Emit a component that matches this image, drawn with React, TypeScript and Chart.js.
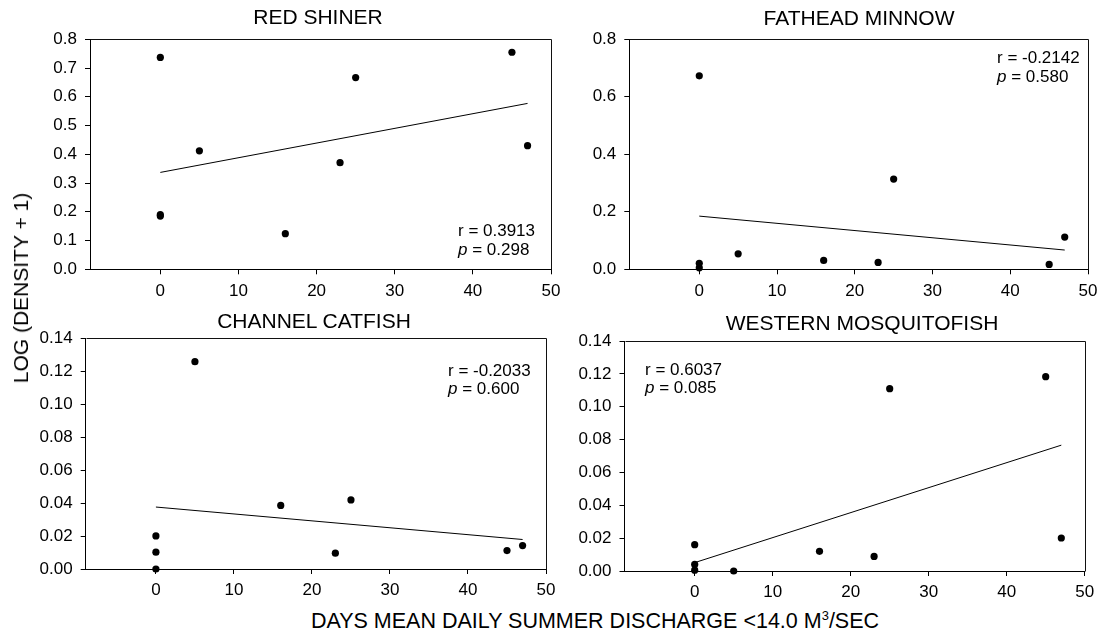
import React, { useEffect, useRef } from 'react';
import { Chart, registerables } from 'chart.js';

Chart.register(...registerables);

// ---- data ----
const xDays = [0, 0, 0, 5, 16, 23, 25, 45, 47];
const redShiner = [0.737, 0.19, 0.185, 0.412, 0.124, 0.371, 0.667, 0.755, 0.43];
const fatheadMinnow = [0.673, 0.021, 0.005, 0.054, 0.031, 0.024, 0.314, 0.017, 0.112];
const channelCatfish = [0.0201, 0.0102, 0.0, 0.1258, 0.0386, 0.0096, 0.0419, 0.0112, 0.0142];
const westernMosquitofish = [0.016, 0.004, 0.0005, 0.0, 0.012, 0.0089, 0.111, 0.1183, 0.0201];

const fitX = [0, 47];
const redShinerFit = [0.337, 0.577];
const fatheadMinnowFit = [0.185, 0.067];
const channelCatfishFit = [0.0376, 0.0179];
const westernMosquitofishFit = [0.0051, 0.0766];

const xTicks = [0, 10, 20, 30, 40, 50];
const xMin = -9;
const xMax = 50;
const yTicksRedShiner = [0, 0.1, 0.2, 0.3, 0.4, 0.5, 0.6, 0.7, 0.8];
const yTicksFathead = [0, 0.2, 0.4, 0.6, 0.8];
const yTicksSmall = [0, 0.02, 0.04, 0.06, 0.08, 0.1, 0.12, 0.14];

const titles = ['RED SHINER', 'FATHEAD MINNOW', 'CHANNEL CATFISH', 'WESTERN MOSQUITOFISH'];
const rTexts = ['r = 0.3913', 'r = -0.2142', 'r = -0.2033', 'r = 0.6037'];
const pTexts = ['= 0.298', '= 0.580', '= 0.600', '= 0.085'];

const FONT = '"Liberation Sans", Arial, Helvetica, sans-serif';

type Spec = {
  ys: number[];
  fit: number[];
  yTicks: number[];
  dec: number;
  left: number;
  top: number;
  w: number;
  h: number;
  yWidth: number;
  padTop: number;
  padRight: number;
  xHeight: number;
};

const specs: Spec[] = [
  { ys: redShiner, fit: redShinerFit, yTicks: yTicksRedShiner, dec: 1, left: 0, top: 0, w: 580, h: 300, yWidth: 90, padTop: 39.3, padRight: 29, xHeight: 30.7 },
  { ys: fatheadMinnow, fit: fatheadMinnowFit, yTicks: yTicksFathead, dec: 1, left: 552, top: 0, w: 552, h: 300, yWidth: 77.3, padTop: 39.3, padRight: 14, xHeight: 30.7 },
  { ys: channelCatfish, fit: channelCatfishFit, yTicks: yTicksSmall, dec: 2, left: 0, top: 300, w: 580, h: 300, yWidth: 85.7, padTop: 38.3, padRight: 34, xHeight: 31 },
  { ys: westernMosquitofish, fit: westernMosquitofishFit, yTicks: yTicksSmall, dec: 2, left: 552, top: 300, w: 552, h: 300, yWidth: 72.5, padTop: 41, padRight: 19.3, xHeight: 29 },
];

const framePlugin = {
  id: 'frame',
  afterDraw(chart: any) {
    const { ctx, chartArea } = chart;
    const l = Math.round(chartArea.left) + 0.5;
    const t = Math.round(chartArea.top) + 0.5;
    const r = Math.round(chartArea.right) + 0.5;
    const b = Math.round(chartArea.bottom) + 0.5;
    ctx.save();
    ctx.strokeStyle = '#111';
    ctx.lineWidth = 1;
    ctx.beginPath();
    ctx.moveTo(l, t);
    ctx.lineTo(r, t);
    ctx.lineTo(r, b);
    ctx.stroke();
    ctx.restore();
  },
};

function Panel({ spec }: { spec: Spec }) {
  const ref = useRef<HTMLCanvasElement>(null);
  useEffect(() => {
    const points = xDays.map((x, i) => ({ x, y: spec.ys[i] }));
    const line = fitX.map((x, i) => ({ x, y: spec.fit[i] }));
    const chart = new Chart(ref.current as HTMLCanvasElement, {
      type: 'scatter',
      data: {
        datasets: [
          {
            data: points,
            pointRadius: 3.6,
            pointBackgroundColor: '#000',
            pointBorderWidth: 0,
            showLine: false,
            clip: false,
          } as any,
          {
            data: line,
            showLine: true,
            pointRadius: 0,
            borderColor: '#000',
            borderWidth: 1,
            fill: false,
            clip: false,
          } as any,
        ],
      },
      options: {
        animation: false,
        responsive: false,
        devicePixelRatio: 1,
        events: [],
        layout: { padding: { left: 0, top: spec.padTop, right: spec.padRight, bottom: 0 } },
        plugins: { legend: { display: false }, tooltip: { enabled: false }, title: { display: false } },
        scales: {
          x: {
            type: 'linear',
            min: xMin,
            max: xMax,
            afterBuildTicks: (s: any) => {
              s.ticks = xTicks.map((v) => ({ value: v }));
            },
            afterFit: (s: any) => {
              s.height = spec.xHeight;
            },
            ticks: {
              autoSkip: false,
              maxRotation: 0,
              color: '#000',
              padding: 6.5,
              font: { family: FONT, size: 17 },
              callback: (v: any) => String(v),
            },
            grid: { display: true, drawOnChartArea: false, drawTicks: true, tickLength: 5, color: '#000' },
            border: { display: true, color: '#000', width: 1 },
          },
          y: {
            type: 'linear',
            min: 0,
            max: spec.yTicks[spec.yTicks.length - 1],
            afterBuildTicks: (s: any) => {
              s.ticks = spec.yTicks.map((v) => ({ value: v }));
            },
            afterFit: (s: any) => {
              s.width = spec.yWidth;
            },
            ticks: {
              autoSkip: false,
              color: '#000',
              padding: 8,
              font: { family: FONT, size: 17 },
              callback: (v: any) => Number(v).toFixed(spec.dec),
            },
            grid: { display: true, drawOnChartArea: false, drawTicks: true, tickLength: 5, color: '#000' },
            border: { display: true, color: '#000', width: 1 },
          },
        },
      } as any,
      plugins: [framePlugin],
    });
    return () => chart.destroy();
  }, []);
  return (
    <canvas
      ref={ref}
      width={spec.w}
      height={spec.h}
      style={{ position: 'absolute', left: spec.left, top: spec.top, width: spec.w, height: spec.h }}
    />
  );
}

const titlePos = [
  { cx: 318, cy: 16.5 },
  { cx: 859, cy: 18 },
  { cx: 314, cy: 320.5 },
  { cx: 862, cy: 322.5 },
];
const notePos = [
  { x: 458, y: 222.3 },
  { x: 997, y: 49 },
  { x: 448, y: 361.5 },
  { x: 645, y: 360.5 },
];

export default function App() {
  const text: React.CSSProperties = { position: 'absolute', fontFamily: FONT, color: '#000', whiteSpace: 'nowrap' };
  return (
    <div style={{ position: 'absolute', left: 0, top: 0, width: 1104, height: 638, background: '#fff', overflow: 'hidden' }}>
      {specs.map((s, i) => (
        <Panel key={i} spec={s} />
      ))}
      {titles.map((t, i) => (
        <div
          key={'t' + i}
          style={{ ...text, left: titlePos[i].cx - 200, width: 400, top: titlePos[i].cy - 12, textAlign: 'center', fontSize: 21, lineHeight: '24px' }}
        >
          {t}
        </div>
      ))}
      {rTexts.map((r, i) => (
        <div key={'n' + i} style={{ ...text, left: notePos[i].x, top: notePos[i].y, fontSize: 17, lineHeight: '18.7px' }}>
          {r}
          <br />
          <i>p</i> {pTexts[i]}
        </div>
      ))}
      <div style={{ ...text, left: 21, top: 288, fontSize: 21, lineHeight: '24px', transform: 'translate(-50%, -50%) rotate(-90deg)' }}>
        LOG (DENSITY + 1)
      </div>
      <div style={{ ...text, left: 595, top: 622, fontSize: 21.5, lineHeight: '24px', transform: 'translate(-50%, -50%)' }}>
        DAYS MEAN DAILY SUMMER DISCHARGE &lt;14.0 M
        <span style={{ fontSize: '0.6em', position: 'relative', top: '-0.6em' }}>3</span>/SEC
      </div>
    </div>
  );
}
